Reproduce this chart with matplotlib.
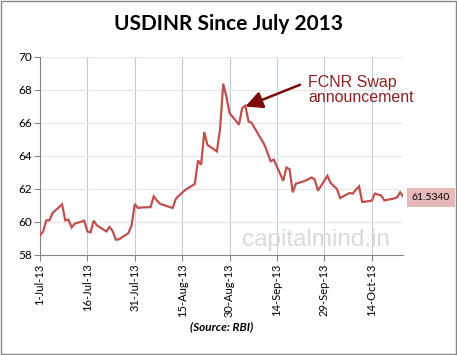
import matplotlib
matplotlib.use("Agg")
import matplotlib.pyplot as plt
import pandas as pd
from matplotlib.patches import Rectangle

dates = ["2013-07-01", "2013-07-02", "2013-07-03", "2013-07-04", "2013-07-05",
         "2013-07-08", "2013-07-09", "2013-07-10", "2013-07-11", "2013-07-12",
         "2013-07-15", "2013-07-16", "2013-07-17", "2013-07-18", "2013-07-19",
         "2013-07-22", "2013-07-23", "2013-07-24", "2013-07-25", "2013-07-26",
         "2013-07-29", "2013-07-30", "2013-07-31", "2013-08-01", "2013-08-02",
         "2013-08-05", "2013-08-06", "2013-08-07", "2013-08-08",
         "2013-08-12", "2013-08-13", "2013-08-14", "2013-08-16",
         "2013-08-19", "2013-08-20", "2013-08-21", "2013-08-22", "2013-08-23",
         "2013-08-26", "2013-08-27", "2013-08-28", "2013-08-29", "2013-08-30",
         "2013-09-02", "2013-09-03", "2013-09-04", "2013-09-05", "2013-09-06",
         "2013-09-10", "2013-09-11", "2013-09-12", "2013-09-13",
         "2013-09-16", "2013-09-17", "2013-09-18", "2013-09-19", "2013-09-20",
         "2013-09-23", "2013-09-24", "2013-09-25", "2013-09-26", "2013-09-27",
         "2013-09-30", "2013-10-01", "2013-10-03", "2013-10-04",
         "2013-10-07", "2013-10-08", "2013-10-09", "2013-10-10", "2013-10-11",
         "2013-10-14", "2013-10-15", "2013-10-17", "2013-10-18",
         "2013-10-21", "2013-10-22", "2013-10-23", "2013-10-24"]
usdinr = [59.19, 59.43, 60.10, 60.10, 60.55,
          61.07, 60.10, 60.14, 59.67, 59.90,
          60.08, 59.43, 59.37, 60.08, 59.80,
          59.43, 59.70, 59.45, 58.93, 58.95,
          59.33, 59.80, 61.09, 60.85, 60.88,
          60.90, 61.55, 61.30, 61.10,
          60.85, 61.41, 61.60, 61.95,
          62.30, 63.73, 63.47, 65.45, 64.68,
          64.28, 65.64, 68.38, 67.60, 66.60,
          65.90, 66.90, 67.05, 66.10, 66.00,
          64.70, 64.20, 63.68, 63.78,
          62.50, 63.30, 63.20, 61.80, 62.32,
          62.50, 62.60, 62.70, 62.56, 61.90,
          62.80, 62.36, 62.00, 61.45,
          61.76, 61.72, 61.95, 62.16, 61.21,
          61.29, 61.72, 61.61, 61.31,
          61.42, 61.49, 61.80, 61.534]
tick_labels = ["1-Jul-13", "16-Jul-13", "31-Jul-13", "15-Aug-13", "30-Aug-13",
               "14-Sep-13", "29-Sep-13", "14-Oct-13"]
y_ticks = [58, 60, 62, 64, 66, 68, 70]
last_label = "61.5340"
title = "USDINR Since July 2013"
annotation = "FCNR Swap\nannouncement"
annot_date = "2013-09-04"
source = "(Source: RBI)"
watermark = "capitalmind.in"

x = pd.to_datetime(dates)
tick_dates = pd.to_datetime(tick_labels, format="%d-%b-%y")

W, H = 457, 355
fig = plt.figure(figsize=(W / 100, H / 100), dpi=100)
ax = fig.add_axes([40 / W, 1 - 255 / H, (403.3 - 40) / W, (255 - 57) / H])

ax.plot(x, usdinr, color="#C0504D", lw=1.6, solid_joinstyle="miter", zorder=3)
ax.set_xlim(x[0], x[-1])
ax.set_ylim(58, 70)
ax.set_yticks(y_ticks)
ax.set_yticklabels([str(v) for v in y_ticks], fontsize=8.5, family="Lato")
ax.set_xticks(tick_dates)
ax.set_xticklabels(tick_labels, rotation=90, fontsize=8, family="Lato")
ax.grid(axis="y", color="#e6e6e6", lw=0.8)
ax.grid(axis="x", color="#b9cde5", lw=0.8)
ax.set_axisbelow(True)
for s in ["top", "right"]:
    ax.spines[s].set_visible(False)
for s in ["left", "bottom"]:
    ax.spines[s].set_color("#868686")
    ax.spines[s].set_linewidth(0.8)
ax.tick_params(axis="both", color="#868686", length=4, width=0.8, pad=2)

# annotation
ai = dates.index(annot_date)
ax.annotate(annotation, xy=(x[ai], usdinr[ai] - 0.05), xycoords="data",
            xytext=(308 / W, 1 - 90 / H), textcoords="figure fraction",
            fontsize=11.5, color="#8B2323", family="Liberation Sans", va="center",
            ha="left", linespacing=1.0,
            arrowprops=dict(arrowstyle="-|>,head_length=0.9,head_width=0.45",
                            color="#7B0C0C", lw=1.8, shrinkA=4, shrinkB=0,
                            relpos=(0, 0.78)))

# last value label
fig.patches.append(Rectangle((407 / W, 1 - 207 / H), 48 / W, 19 / H,
                             transform=fig.transFigure, facecolor="#E6B9B8",
                             edgecolor="none"))
fig.text(431 / W, 1 - 198 / H, last_label, fontsize=7.5, family="Lato",
         ha="center", va="center")

# watermark
fig.text(316 / W, 1 - 240 / H, watermark, fontsize=17.5, color="#d9d9d9",
         family="Liberation Sans", ha="center", va="center")

# title and source
fig.text(228 / W, 1 - 24 / H, title, fontsize=15, fontweight="bold",
         family="Lato", ha="center", va="center")
fig.text(222 / W, 1 - 327 / H, source, fontsize=8.5, fontweight="bold",
         style="italic", family="Lato", ha="center", va="center")

# figure border
fig.patches.append(Rectangle((1 / W, 1 / H), (W - 2) / W, (H - 2) / H,
                             transform=fig.transFigure, facecolor="none",
                             edgecolor="#868686", lw=1))

fig.savefig("out.png", dpi=100)
